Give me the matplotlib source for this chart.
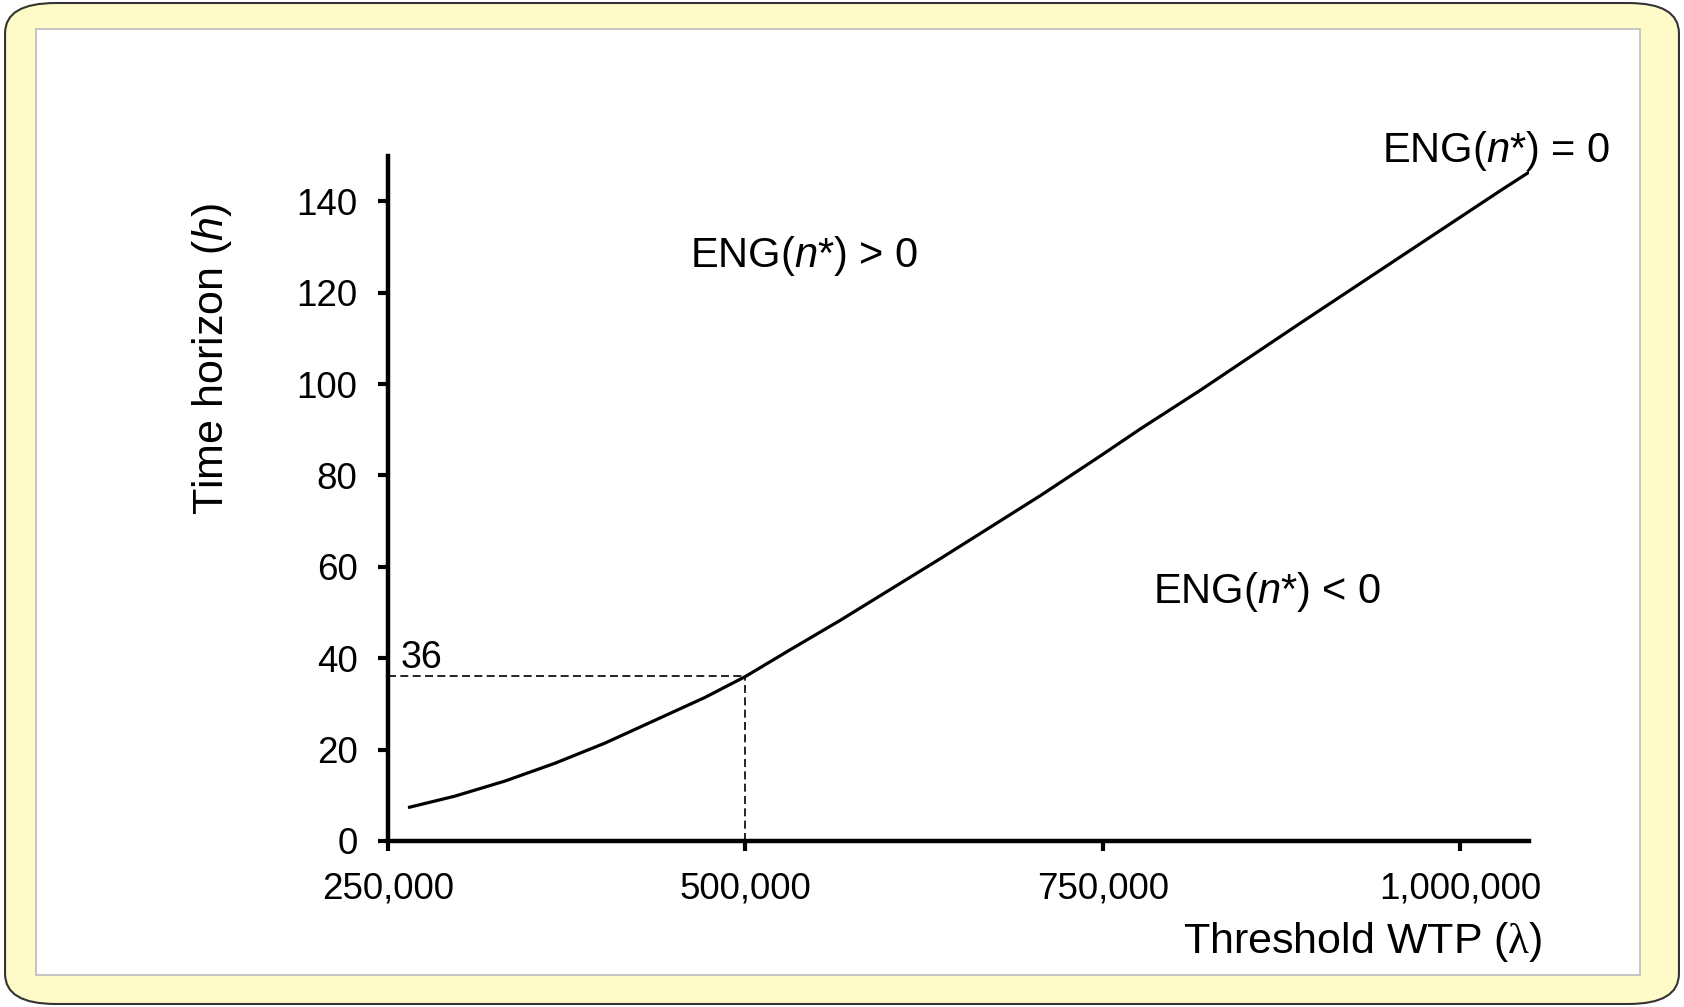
import matplotlib
matplotlib.use('Agg')
import matplotlib.pyplot as plt
from matplotlib.patches import FancyBboxPatch, Rectangle
from matplotlib.ticker import FuncFormatter

plt.rcParams['font.family'] = ['Liberation Sans', 'DejaVu Sans']
plt.rcParams['mathtext.fontset'] = 'custom'
plt.rcParams['mathtext.rm'] = 'Liberation Sans'
plt.rcParams['mathtext.it'] = 'Liberation Sans:italic'
plt.rcParams['mathtext.sf'] = 'Liberation Serif'

# threshold WTP (lambda) vs time horizon where ENG(n*) = 0
wtp = [264000, 296700, 331700, 366700, 401600, 436600, 471600, 500000, 529900,
       566300, 636300, 706300, 748300, 776200, 818300, 888300, 958200, 1028200, 1050000]
horizon = [7.3, 9.8, 13.1, 17.0, 21.4, 26.4, 31.4, 36.0, 41.6,
           48.3, 61.8, 75.6, 84.3, 90.2, 98.7, 113.4, 127.9, 142.4, 146.8]

x_ticks = [250000, 500000, 750000, 1000000]
y_ticks = [0, 20, 40, 60, 80, 100, 120, 140]

ref_wtp = 500000
ref_h = 36

fig = plt.figure(figsize=(16.84, 10.07), dpi=100)
fig.patch.set_facecolor('white')

# yellow rounded frame with white panel
frame = FancyBboxPatch((0.003, 0.003), 0.994, 0.994, boxstyle='round,pad=0,rounding_size=0.03',
                       transform=fig.transFigure, facecolor='#fffbc8', edgecolor='#333333',
                       linewidth=1.5, zorder=-2)
fig.patches.append(frame)
panel = Rectangle((0.0214, 0.0318), 0.9525, 0.9394, transform=fig.transFigure,
                  facecolor='white', edgecolor='#bbbbbb', linewidth=1.2, zorder=-1)
fig.patches.append(panel)

ax = fig.add_axes([0.2304, 0.1649, 0.6776, 0.6805])
ax.patch.set_alpha(0)
ax.plot(wtp, horizon, color='black', linewidth=2.3, solid_capstyle='butt', solid_joinstyle='round')
ax.plot([250000, ref_wtp], [ref_h, ref_h], color='black', linestyle=(0, (4.8, 2.6)), linewidth=1.2)
ax.plot([ref_wtp, ref_wtp], [0, ref_h], color='black', linestyle=(0, (4.8, 2.6)), linewidth=1.2)

ax.set_xlim(250000, 1048000)
ax.set_ylim(0, 150)
ax.set_xticks(x_ticks)
ax.set_yticks(y_ticks)
ax.xaxis.set_major_formatter(FuncFormatter(lambda v, p: f'{int(v):,}'))
ax.tick_params(axis='both', labelsize=26.5, width=3, length=7, direction='out', pad=15)
for s in ['top', 'right']:
    ax.spines[s].set_visible(False)
for s in ['left', 'bottom']:
    ax.spines[s].set_linewidth(3.2)

ax.text(461000, 128, r'ENG($\mathit{n}$*) > 0', fontsize=30, va='center', ha='left')
ax.text(785000, 54.5, r'ENG($\mathit{n}$*) < 0', fontsize=30, va='center', ha='left')
ax.text(945000, 151, r'ENG($\mathit{n}$*) = 0', fontsize=30, va='center', ha='left', clip_on=False)
ax.text(259000, 40, '36', fontsize=27, va='center', ha='left')

fig.text(0.126, 0.644, r'Time horizon ($\mathit{h}$)', fontsize=31, rotation=90, va='center', ha='center')
fig.text(0.916, 0.065, r'Threshold WTP ($\mathsf{\lambda}$)', fontsize=31, va='center', ha='right')

fig.savefig('out.png', dpi=100)
